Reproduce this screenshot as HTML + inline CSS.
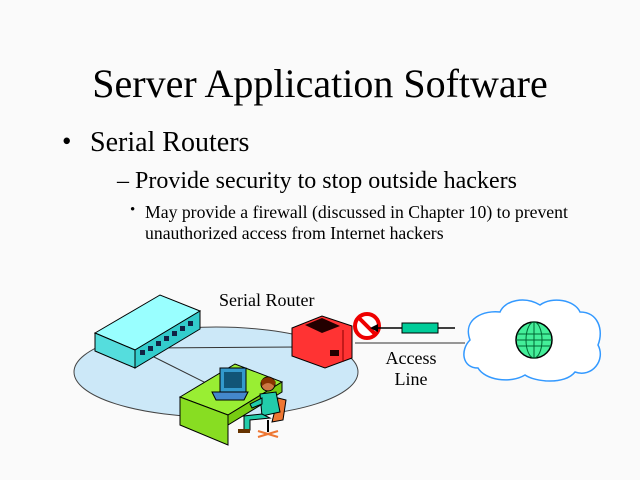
<!DOCTYPE html>
<html><head><style>
html,body{margin:0;padding:0;background:#fafafa;}
body{width:640px;height:480px;position:relative;overflow:hidden;font-family:"Liberation Serif",serif;color:#000;}
.t{position:absolute;white-space:nowrap;}
</style></head><body>
<div class="t" style="left:0;width:640px;text-align:center;top:60px;font-size:40px;">Server Application Software</div>
<div class="t" style="left:62px;top:126px;font-size:27px;">•</div>
<div class="t" style="left:90px;top:127px;font-size:28px;">Serial Routers</div>
<div class="t" style="left:117px;top:168px;font-size:24px;">– Provide security to stop outside hackers</div>
<div class="t" style="left:130px;top:202px;font-size:15px;">•</div>
<div class="t" style="left:145px;top:202px;font-size:17.7px;line-height:21px;">May provide a firewall (discussed in Chapter 10) to prevent<br>unauthorized access from Internet hackers</div>
<svg width="640" height="480" style="position:absolute;left:0;top:0">
<ellipse cx="216" cy="372" rx="142" ry="45" fill="#cce8f8" stroke="#444" stroke-width="1"/>
<line x1="150" y1="348" x2="300" y2="347" stroke="#333"/>
<line x1="150" y1="355" x2="220" y2="390" stroke="#333"/>
<line x1="355" y1="343" x2="465" y2="343" stroke="#333"/>
<polygon points="95,333 160,295 200,311 135,350" fill="#9ff" stroke="#000"/>
<polygon points="95,333 135,350 135,368 95,351" fill="#5dd" stroke="#000"/>
<polygon points="135,350 200,311 200,329 135,368" fill="#3cc" stroke="#000"/>
<g fill="#124">
<rect x="140" y="350" width="5" height="5"/><rect x="148" y="346" width="5" height="5"/><rect x="156" y="341" width="5" height="5"/><rect x="164" y="336" width="5" height="5"/><rect x="172" y="331" width="5" height="5"/><rect x="180" y="326" width="5" height="5"/><rect x="188" y="321" width="5" height="5"/></g>
<polygon points="292,328 322,316 352,326 352,358 325,368 292,356" fill="#f33" stroke="#000"/>
<polygon points="305,325 322,318 340,326 322,333" fill="#200"/>
<rect x="330" y="350" width="9" height="6" fill="#200"/>
<line x1="343" y1="330" x2="343" y2="362" stroke="#800"/>
<circle cx="367" cy="326" r="12" fill="#fff" stroke="#e00" stroke-width="4"/>
<line x1="359" y1="318" x2="375" y2="334" stroke="#e00" stroke-width="4"/>
<polygon points="370,328 378,324 378,332" fill="#000"/>
<line x1="378" y1="328" x2="455" y2="328" stroke="#000" stroke-width="1.5"/>
<rect x="402" y="323" width="36" height="10" fill="#0c9" stroke="#000"/>
<path d="M470,340 C462,318 485,310 500,312 C505,300 525,296 540,305 C552,296 575,300 580,312 C598,312 604,330 598,345 C606,360 592,378 575,372 C565,385 535,382 525,375 C510,384 485,380 478,368 C462,368 460,350 470,340 Z" fill="#fff" stroke="#39f" stroke-width="1.5"/>
<circle cx="534" cy="340" r="18" fill="#4e9" stroke="#000" stroke-width="1.5"/>
<g stroke="#063" stroke-width="1" fill="none">
<line x1="517" y1="334" x2="551" y2="334"/><line x1="516" y1="340" x2="552" y2="340"/><line x1="517" y1="346" x2="551" y2="346"/>
<line x1="534" y1="322" x2="534" y2="358"/><ellipse cx="534" cy="340" rx="8" ry="18"/></g>
<polygon points="180,397 235,364 282,382 228,415" fill="#9e3" stroke="#000"/>
<polygon points="180,397 228,415 228,445 180,425" fill="#8d2" stroke="#000"/>
<polygon points="228,415 282,382 282,392 228,425" fill="#7c1" stroke="#000"/>
<rect x="220" y="368" width="26" height="24" fill="#39c" stroke="#000"/>
<rect x="224" y="372" width="18" height="16" fill="#157"/>
<polygon points="212,392 248,392 244,400 216,400" fill="#48c" stroke="#000"/>
<path d="M278,398 L286,400 L283,420 L272,422 Z" fill="#e73" stroke="#000"/>
<circle cx="268" cy="384" r="7" fill="#c74" stroke="#000"/>
<path d="M261,381 Q268,373 276,382 L274,386 Q268,380 262,386 Z" fill="#830"/>
<path d="M260,394 L276,392 L280,412 L262,416 Z" fill="#2ca" stroke="#000"/>
<path d="M262,398 L250,404 L252,408 L262,404 Z" fill="#2ca" stroke="#000"/>
<path d="M262,414 L244,416 L244,430 L250,430 L250,420 L270,418 Z" fill="#2ca" stroke="#000"/>
<rect x="238" y="429" width="12" height="4" fill="#630"/>
<line x1="268" y1="420" x2="268" y2="432" stroke="#000" stroke-width="2"/>
<line x1="258" y1="437" x2="278" y2="431" stroke="#e73" stroke-width="2"/>
<line x1="258" y1="431" x2="278" y2="437" stroke="#e73" stroke-width="2"/>
</svg>
<div class="t" style="left:219px;top:290px;font-size:18px;">Serial Router</div>
<div class="t" style="left:370px;top:348px;width:82px;text-align:center;font-size:18px;line-height:21px;">Access<br>Line</div>
</body></html>
